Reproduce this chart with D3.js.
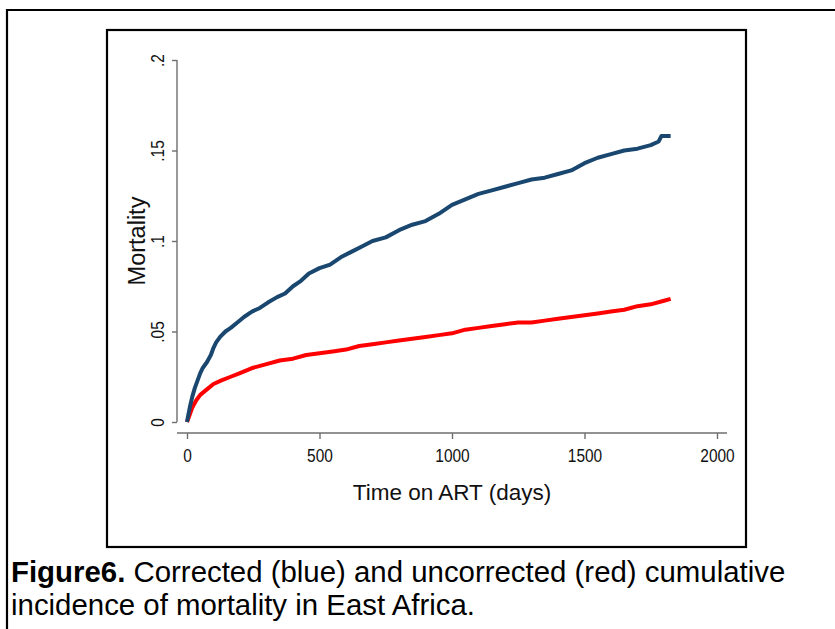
<!DOCTYPE html>
<html>
<head>
<meta charset="utf-8">
<script src="https://cdn.jsdelivr.net/npm/d3@7"></script>
<style>
  html, body { margin: 0; padding: 0; background: #fff; }
  svg { display: block; font-family: "Liberation Sans", Arial, Helvetica, sans-serif; }
</style>
</head>
<body>
<svg id="chart" width="835" height="629"></svg>
<script>
// ---- Data ----
const correctedDays   = [0,5,12,20,30,40,50,60,75,90,100,110,125,145,165,190,215,245,275,305,340,370,400,430,460,500,540,580,620,660,700,750,800,850,900,950,1000,1050,1100,1150,1200,1250,1300,1350,1400,1450,1500,1550,1600,1650,1700,1750,1780,1790,1825];
const correctedValues = [0,0.004,0.009,0.014,0.019,0.023,0.027,0.030,0.033,0.037,0.041,0.044,0.047,0.050,0.052,0.055,0.058,0.061,0.063,0.066,0.069,0.071,0.075,0.078,0.082,0.085,0.087,0.091,0.094,0.097,0.100,0.102,0.106,0.109,0.111,0.115,0.120,0.123,0.126,0.128,0.130,0.132,0.134,0.135,0.137,0.139,0.143,0.146,0.148,0.150,0.151,0.153,0.155,0.158,0.158];
const uncorrectedDays   = [0,10,20,35,50,75,100,130,165,200,250,300,350,400,450,500,550,600,650,700,750,800,850,900,950,1000,1050,1100,1150,1200,1250,1300,1350,1400,1450,1500,1550,1600,1650,1700,1750,1800,1825];
const uncorrectedValues = [0,0.004,0.008,0.012,0.015,0.018,0.021,0.023,0.025,0.027,0.030,0.032,0.034,0.035,0.037,0.038,0.039,0.040,0.042,0.043,0.044,0.045,0.046,0.047,0.048,0.049,0.051,0.052,0.053,0.054,0.055,0.055,0.056,0.057,0.058,0.059,0.060,0.061,0.062,0.064,0.065,0.067,0.068];
const xTicks = [0, 500, 1000, 1500, 2000];
const yTicks = [0, 0.05, 0.1, 0.15, 0.2];
const yTickLabels = ["0", ".05", ".1", ".15", ".2"];
const xTitle = "Time on ART (days)";
const yTitle = "Mortality";
const captionBold = "Figure6.";
const captionLine1 = " Corrected (blue) and uncorrected (red) cumulative";
const captionLine2 = "incidence of mortality in East Africa.";

const svg = d3.select("#chart");

// outer frame (continues past the right/bottom edges)
svg.append("path")
  .attr("d", "M7,640 L7,10 L845,10")
  .attr("fill", "none").attr("stroke", "#000").attr("stroke-width", 2.2);

// inner graph frame
svg.append("rect")
  .attr("x", 107).attr("y", 30).attr("width", 639).attr("height", 517)
  .attr("fill", "#fff").attr("stroke", "#000").attr("stroke-width", 2.2);

const x = d3.scaleLinear().domain([0, 2000]).range([187, 717]);
const y = d3.scaleLinear().domain([0, 0.2]).range([422, 60]);
const axisColor = "#6e6e6e";
const tickFont = 18;
const tickSquash = 0.86;

// x axis
const gx = svg.append("g").attr("transform", "translate(0,433)")
  .call(d3.axisBottom(x).tickValues(xTicks).tickFormat(d3.format("d")).tickSize(6).tickSizeOuter(0));
gx.select(".domain").remove();
gx.append("line").attr("x1", x.range()[0] - 10).attr("x2", x.range()[1] + 10)
  .attr("stroke", axisColor).attr("stroke-width", 1.4);
gx.selectAll(".tick line").attr("stroke", axisColor).attr("stroke-width", 1.4);
gx.selectAll(".tick text").attr("fill", "#111").attr("font-size", tickFont)
  .attr("font-family", "Liberation Sans, Arial, sans-serif")
  .attr("y", null).attr("dy", null)
  .attr("transform", `translate(0,29) scale(${tickSquash},1)`);

// y axis
const gy = svg.append("g").attr("transform", "translate(177,0)")
  .call(d3.axisLeft(y).tickValues(yTicks).tickFormat((d, i) => yTickLabels[i]).tickSize(5).tickSizeOuter(0));
gy.select(".domain").remove();
gy.append("line").attr("y1", y.range()[0]).attr("y2", y.range()[1])
  .attr("stroke", axisColor).attr("stroke-width", 1.4);
gy.selectAll(".tick line").attr("stroke", axisColor).attr("stroke-width", 1.4);
gy.selectAll(".tick text")
  .attr("fill", "#111").attr("font-size", tickFont)
  .attr("font-family", "Liberation Sans, Arial, sans-serif")
  .attr("x", null).attr("dy", null)
  .attr("text-anchor", "middle")
  .attr("transform", `translate(-13,0) rotate(-90) scale(${tickSquash},1)`);

// titles
svg.append("text").attr("x", 452).attr("y", 500).attr("text-anchor", "middle")
  .attr("font-size", 22.5).attr("fill", "#111").text(xTitle);
svg.append("text").attr("transform", "translate(145,241) rotate(-90)").attr("text-anchor", "middle")
  .attr("font-size", 23.5).attr("fill", "#111").text(yTitle);

// lines
const line = d3.line().x(d => x(d[0])).y(d => y(d[1])).curve(d3.curveLinear);
const blueData = correctedDays.map((d, i) => [d, correctedValues[i]]);
const redData = uncorrectedDays.map((d, i) => [d, uncorrectedValues[i]]);
svg.append("path").datum(redData).attr("d", line)
  .attr("fill", "none").attr("stroke", "#ff0000").attr("stroke-width", 4).attr("stroke-linejoin", "round");
svg.append("path").datum(blueData).attr("d", line)
  .attr("fill", "none").attr("stroke", "#1a476f").attr("stroke-width", 4).attr("stroke-linejoin", "round");

// caption
const capFont = 29.4;
const cap = svg.append("text").attr("x", 11).attr("y", 582).attr("font-size", capFont).attr("fill", "#000");
cap.append("tspan").attr("font-weight", "bold").text(captionBold);
cap.append("tspan").text(captionLine1);
svg.append("text").attr("x", 11).attr("y", 615).attr("font-size", capFont).attr("fill", "#000").text(captionLine2);
</script>
</body>
</html>
